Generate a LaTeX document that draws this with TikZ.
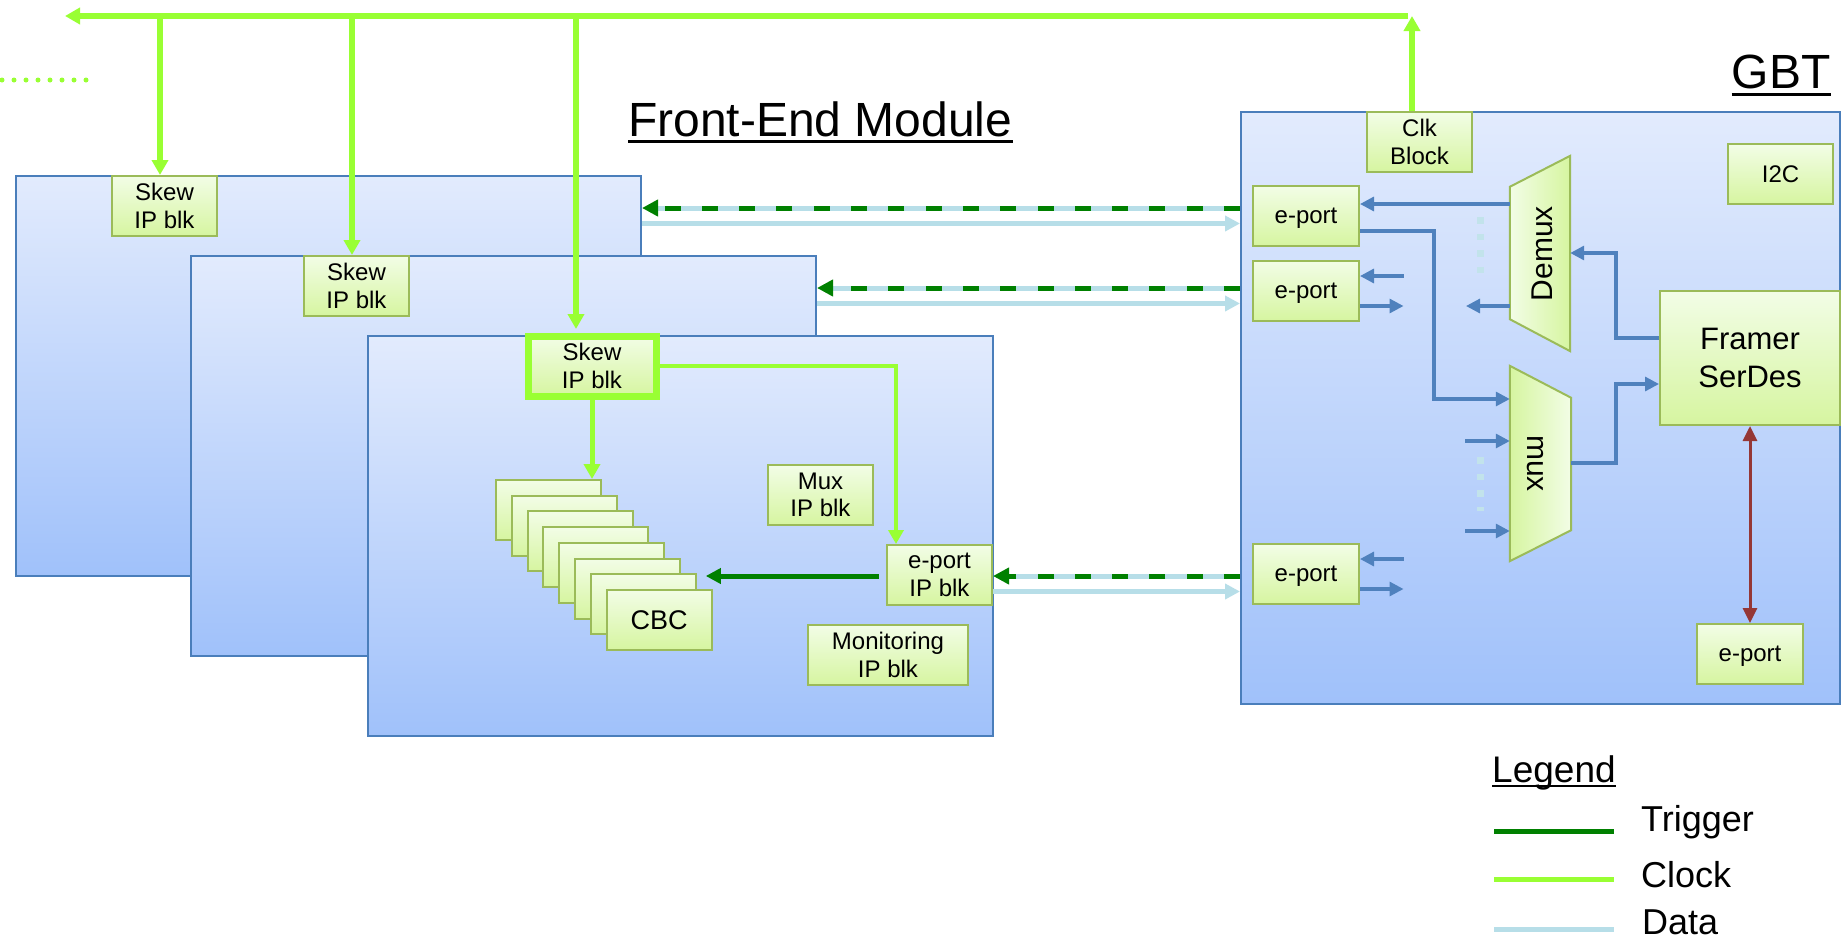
\documentclass[tikz,border=0pt]{standalone}
\usepackage{fontspec}
\setmainfont{Liberation Sans}
\usetikzlibrary{arrows.meta,calc}

\definecolor{clk}{RGB}{153,255,51}
\definecolor{trg}{RGB}{0,128,0}
\definecolor{dat}{RGB}{183,222,232}
\definecolor{sig}{RGB}{79,129,189}
\definecolor{frame}{RGB}{74,126,187}
\definecolor{boxtop}{RGB}{226,235,253}
\definecolor{boxbot}{RGB}{160,193,250}
\definecolor{blkedge}{RGB}{155,187,89}
\definecolor{blktop}{RGB}{242,253,230}
\definecolor{blkbot}{RGB}{214,245,160}
\definecolor{pwr}{RGB}{149,55,53}

% single-line port label: baseline set 7pt below the box centre
\newcommand{\portlbl}{\raisebox{-7pt}[0pt][0pt]{e-port}}

\begin{document}
\begin{tikzpicture}[x=1pt,y=-1pt,
  module/.style={draw=frame, line width=2pt, top color=boxtop, bottom color=boxbot,
    minimum width=625pt, minimum height=400pt, inner sep=0pt},
  blk/.style={draw=blkedge, line width=2pt, top color=blktop, bottom color=blkbot,
    minimum width=105pt, minimum height=60pt, inner sep=0pt, align=center,
    font=\fontsize{24}{27.6}\selectfont},
  skewhot/.style={blk, draw=clk, line width=7pt, minimum width=128pt},
  muxshape/.style={minimum width=60pt, minimum height=195pt, inner sep=0pt},
  trapfill/.style={draw=blkedge, line width=2pt},
  clkarrow/.style={draw=clk, line width=5.5pt, -{Triangle[length=15pt,width=16pt]}},
  clkthin/.style={draw=clk, line width=3.5pt, -{Triangle[length=14pt,width=15pt]}},
  trgarrow/.style={draw=trg, line width=5pt, -{Triangle[length=15pt,width=15pt]}},
  trigline/.style={draw=trg, line width=5pt, dash pattern=on 16pt off 21.3pt,
    -{Triangle[length=16pt,width=16pt]},
    preaction={draw=dat, line width=5pt, solid, arrows=-, shorten >=15pt}},
  dataline/.style={draw=dat, line width=5pt, -{Triangle[length=15pt,width=15pt]}},
  sigarrow/.style={draw=sig, line width=3.2pt, -{Triangle[length=14pt,width=14pt]}},
  datadots/.style={draw=dat!85, line width=7pt, dash pattern=on 6.5pt off 10pt},
  pwrarrow/.style={draw=pwr, line width=3pt,
    {Triangle[length=15pt,width=14pt]}-{Triangle[length=15pt,width=14pt]}},
  title/.style={anchor=base west, inner sep=0pt, font=\fontsize{48}{55}\selectfont},
  legtext/.style={anchor=base west, inner sep=0pt, font=\fontsize{36}{41}\selectfont},
]
\useasboundingbox (0,0) rectangle (1847,940);
\fill[white] (0,0) rectangle (1847,940);

% ---------- front-end modules (stacked) ----------
\node[module] (feA) at (328.5,376) {};
\node[blk] (skewA) at (164.5,206) {Skew\\IP blk};
\node[module] (feB) at (503.5,456) {};
\node[blk] (skewB) at (356.5,286) {Skew\\IP blk};
\node[module] (feC) at (680.5,536) {};
\node[skewhot] (skewC) at (592,366) {Skew\\IP blk};

% CBC chips
\foreach \i in {1,...,7}
  \node[blk] (cbc\i) at ({548.5+15.8*(\i-1)},{510+15.7*(\i-1)}) {};
\node[blk, font=\fontsize{27}{31}\selectfont] (cbc8) at ({548.5+15.8*7},{510+15.7*7}) {CBC};

\node[blk] (muxip) at (820.5,495) {Mux\\IP blk};
\node[blk, minimum width=160pt] (monip) at (888,655) {Monitoring\\IP blk};
\node[blk] (epip) at (939.5,575) {e-port\\IP blk};

% ---------- GBT ----------
\node[module, minimum width=599pt, minimum height=592pt] (gbt) at (1540.5,408) {};
\node[blk] (clk) at (1419.5,142) {Clk\\Block};
\node[blk] (i2c) at (1780.5,174) {I2C};
\node[blk, minimum width=106pt] (ep1) at (1306,216) {\portlbl};
\node[blk, minimum width=106pt] (ep2) at (1306,291) {\portlbl};
\node[blk, minimum width=106pt] (ep3) at (1306,574) {\portlbl};
\node[blk, minimum width=180pt, minimum height=134pt,
      font=\fontsize{31}{37.7}\selectfont] (framer) at (1750,358) {Framer\\SerDes};
\node[blk, minimum width=106pt] (ep4) at (1750,654) {\portlbl};

% demultiplexer
\node[muxshape] (demux) at (1540,253.5) {};
\path[trapfill, left color=blktop, right color=blkbot]
  (demux.north east) -- (demux.south east)
  -- ($(demux.south west)+(0,-32)$) -- ($(demux.north west)+(0,31)$) -- cycle;
\node[rotate=90, inner sep=0pt, font=\fontsize{30}{34}\selectfont] (demuxtxt)
  at ($(demux.center)+(2,0)$) {Demux};

% multiplexer
\node[muxshape, minimum width=61pt] (mux) at (1540.5,463.5) {};
\path[trapfill, left color=blkbot, right color=blktop]
  (mux.north west) -- ($(mux.north east)+(0,32)$)
  -- ($(mux.south east)+(0,-31)$) -- (mux.south west) -- cycle;
\node[rotate=-90, inner sep=0pt, font=\fontsize{30}{34}\selectfont] (muxtxt)
  at ($(mux.center)+(-5,0)$) {mux};

% ---------- titles ----------
\node[title] (fetitle) at (628,136) {Front-End Module};
\draw[line width=3pt] ($(fetitle.base west)+(0,5)$) -- ($(fetitle.base east)+(0,5)$);
\node[title] (gbttitle) at (1731.5,88) {GBT};
\draw[line width=3pt] ($(gbttitle.base west)+(0,6)$) -- ($(gbttitle.base east)+(0,6)$);

% ---------- clock distribution ----------
\coordinate (busR) at (1412,16);
\coordinate (busL) at (65,16);
\coordinate (tapA) at (160,16);
\coordinate (tapB) at (352,16);
\coordinate (tapC) at (576,16);
\draw[clkarrow] ($(busR)+(-4,0)$) -- (busL);
\draw[clkarrow] (busR |- clk.north) -- (busR);
\draw[clkarrow] (tapA) -- (tapA |- skewA.north);
\draw[clkarrow] (tapB) -- (tapB |- skewB.north);
\draw[clkarrow, shorten >=3.5pt] (tapC) -- (tapC |- skewC.north);
\coordinate (dotL) at (2,80);
\coordinate (dotR) at (86,80);
\draw[draw=clk, line width=5pt, line cap=round, dash pattern=on 0pt off 12pt] (dotL) -- (dotR);

% inside the front module
\draw[clkarrow, line width=5pt] (skewC.south) -- (skewC.south |- cbc1.north);
\draw[clkthin] (skewC.east) -| ($(epip.north)+(-43.5,0)$);
\draw[trgarrow, shorten <=7pt] (epip.west |- 0,576) -- ($(cbc7.east |- 0,576)+(9,0)$);

% ---------- links between modules and GBT ----------
\draw[trigline] (gbt.west |- 0,208) -- (feA.east |- 0,208);
\draw[dataline] (feA.east |- 0,223.5) -- (gbt.west |- 0,223.5);
\draw[trigline] (gbt.west |- 0,288) -- (feB.east |- 0,288);
\draw[dataline] (feB.east |- 0,303.5) -- (gbt.west |- 0,303.5);
\draw[trigline] (gbt.west |- 0,576) -- (epip.east |- 0,576);
\draw[dataline] (epip.east |- 0,591.5) -- (gbt.west |- 0,591.5);

% ---------- GBT internal paths ----------
\coordinate (d2out) at (1466,306);
\coordinate (e2in) at (1403.5,276);
\coordinate (e2out) at (1403.5,306);
\coordinate (e3in) at (1403.5,559);
\coordinate (e3out) at (1403.5,589);
\coordinate (m1in) at (1465,441);
\coordinate (m2in) at (1465,531);

\draw[sigarrow] (demux.west |- 0,204) -- (ep1.east |- 0,204);
\draw[sigarrow] (ep1.east |- 0,231) -- (1434,231) |- (mux.west |- 0,399);
\draw[sigarrow] (framer.west |- 0,338) -- (1616,338) |- (demux.east |- 0,253);
\draw[sigarrow] (mux.east |- 0,463) -- (1616,463) |- (framer.west |- 0,384);
\draw[sigarrow] (demux.west |- d2out) -- (d2out);
\draw[sigarrow] (e2in) -- (ep2.east |- e2in);
\draw[sigarrow] (ep2.east |- e2out) -- (e2out);
\draw[sigarrow] (e3in) -- (ep3.east |- e3in);
\draw[sigarrow] (ep3.east |- e3out) -- (e3out);
\draw[sigarrow] (m1in) -- (mux.west |- m1in);
\draw[sigarrow] (m2in) -- (mux.west |- m2in);
\draw[datadots] (1480.5,217) -- (1480.5,273);
\draw[datadots] (1480,457) -- (1480,511);
\draw[pwrarrow] (framer.south) -- (ep4.north);

% ---------- legend ----------
\node[anchor=base west, inner sep=0pt, font=\fontsize{37}{42}\selectfont] (legtitle) at (1492,782) {Legend};
\draw[line width=2.5pt] ($(legtitle.base west)+(0,4)$) -- ($(legtitle.base east)+(0,4)$);
\node[legtext] (legtrg) at (1641,831) {Trigger};
\node[legtext] (legclk) at (1641,887) {Clock};
\node[legtext] (legdat) at (1642,934) {Data};
\draw[trg, line width=5pt] (1494,831.5) -- (1614,831.5);
\draw[clk, line width=5pt] (1494,879.5) -- (1614,879.5);
\draw[dat, line width=5pt] (1494,929) -- (1614,929);
\end{tikzpicture}
\end{document}
